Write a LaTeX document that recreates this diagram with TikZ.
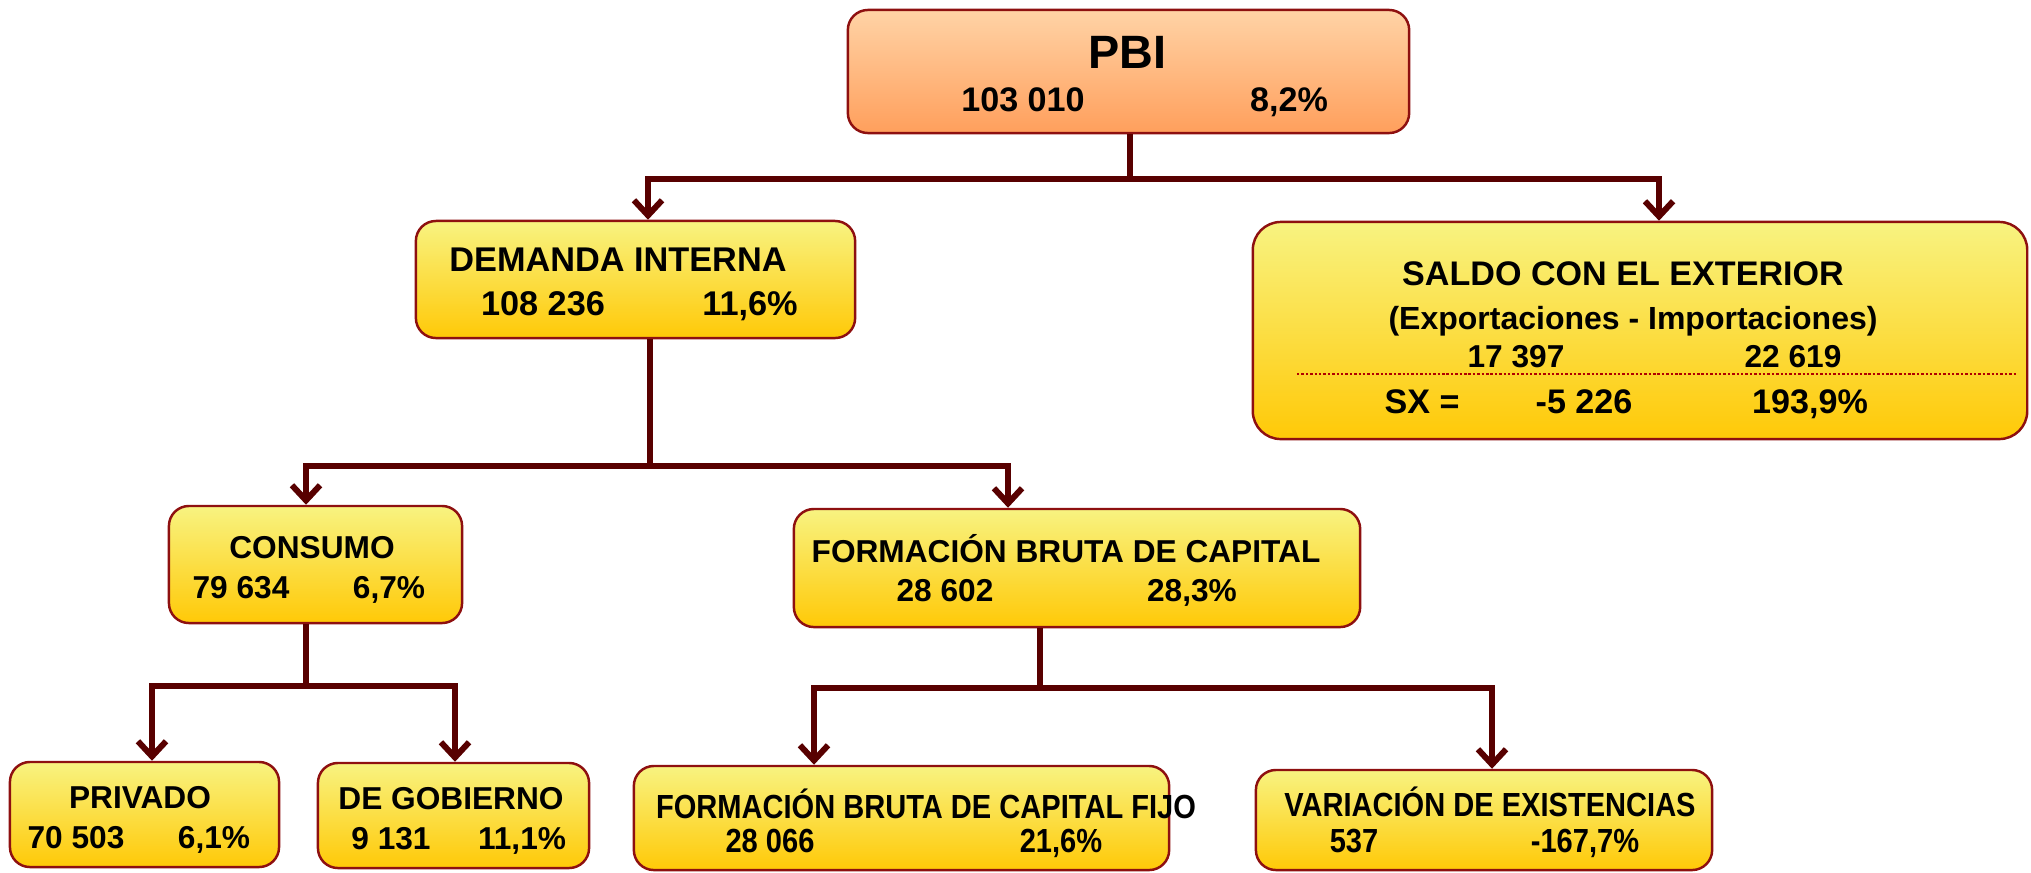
\documentclass[tikz,border=0pt]{standalone}
\usepackage{fontspec}
\setmainfont{Liberation Sans}
\usepackage{graphicx}
\usepackage{xcolor}
\definecolor{boxtop}{HTML}{F8F381}
\definecolor{boxbot}{HTML}{FFC907}
\definecolor{pbitop}{HTML}{FFD3A6}
\definecolor{pbibot}{HTML}{FF9F5C}
\definecolor{boxline}{HTML}{8E1010}
\definecolor{linkcol}{HTML}{580000}
\definecolor{sepcol}{HTML}{B00000}
\usetikzlibrary{arrows.meta}
\usetikzlibrary{calc}
\usetikzlibrary{positioning}

\newcommand{\cond}[1]{\scalebox{0.87}[1]{#1}}

\begin{document}
\begin{tikzpicture}[x=0.01cm,y=-0.01cm,
  box/.style={draw=boxline,line width=0.7pt,rounded corners=0.2cm,top color=boxtop,bottom color=boxbot,inner sep=0pt},
  pbibox/.style={box,top color=pbitop,bottom color=pbibot},
  lbl/.style={anchor=base,inner sep=0pt,font=\bfseries\fontsize{9}{11}\selectfont},
  link/.style={draw=linkcol,line width=1.7pt},
  arr/.style={link,-{Straight Barb[length=4.3pt,width=8pt]}}]
\useasboundingbox (0,0) rectangle (2031,872);

% boxes
\node (pbi) at (1128.5,71.5) [pbibox,minimum width=5.61cm,minimum height=1.23cm] {};
\node (dem) at (635.5,279.5) [box,minimum width=4.39cm,minimum height=1.17cm] {};
\node (sal) at (1640,330.5) [box,rounded corners=0.28cm,minimum width=7.74cm,minimum height=2.17cm] {};
\node (con) at (315.5,564.5) [box,minimum width=2.93cm,minimum height=1.17cm] {};
\node (fbk) at (1077,568) [box,minimum width=5.66cm,minimum height=1.18cm] {};
\node (pri) at (144.5,814.5) [box,minimum width=2.69cm,minimum height=1.05cm] {};
\node (gob) at (453.5,815.5) [box,minimum width=2.71cm,minimum height=1.05cm] {};
\node (fbkf) at (901.5,818) [box,minimum width=5.35cm,minimum height=1.04cm] {};
\node (var) at (1484,820) [box,minimum width=4.56cm,minimum height=1.0cm] {};

% junctions
\coordinate (j1) at (1130,179);
\coordinate (j2) at (650,466);
\coordinate (j3) at (306,686);
\coordinate (j4) at (1040,688);

\draw[link] (pbi.south -| j1) -- (j1);
\draw[arr] (j1) -| ($(dem.north)+(12.5,0)$);
\draw[arr] (j1) -| ($(sal.north)+(19,0)$);

\draw[link] (dem.south -| j2) -- (j2);
\draw[arr] (j2) -| ($(con.north)+(-9.5,0)$);
\draw[arr] (j2) -| ($(fbk.north)+(-69,0)$);

\draw[link] (con.south -| j3) -- (j3);
\draw[arr] (j3) -| ($(pri.north)+(7.5,0)$);
\draw[arr] (j3) -| ($(gob.north)+(1.5,0)$);

\draw[link] (fbk.south -| j4) -- (j4);
\draw[arr] (j4) -| ($(fbkf.north)+(-87.5,0)$);
\draw[arr] (j4) -| ($(var.north)+(8,0)$);

% texts
\node (pbit) at (1127,68) [lbl,font=\bfseries\fontsize{13.3}{15}\selectfont] {PBI};
\node (pbia) at (1023,111) [lbl,font=\bfseries\fontsize{9.7}{11}\selectfont] {103 010};
\node (pbib) at (1289,111) [lbl,font=\bfseries\fontsize{9.7}{11}\selectfont] {8,2\%};

\node (demt) at (618,271) [lbl,font=\bfseries\fontsize{9.75}{11}\selectfont] {DEMANDA INTERNA};
\node (dema) at (543,315) [lbl,font=\bfseries\fontsize{9.75}{11}\selectfont] {108 236};
\node (demb) at (750,315) [lbl,font=\bfseries\fontsize{9.75}{11}\selectfont] {11,6\%};

\node (salt) at (1623,285) [lbl,font=\bfseries\fontsize{9.7}{11}\selectfont] {SALDO CON EL EXTERIOR};
\node (salp) at (1633,329) [lbl,font=\bfseries\fontsize{9.1}{11}\selectfont] {(Exportaciones - Importaciones)};
\node (salx) at (1516,367) [lbl] {17 397};
\node (salm) at (1793,367) [lbl] {22 619};
\draw[draw=sepcol,line width=0.7pt,dash pattern=on 0.7pt off 0.55pt] (1297,374) -- (2016,374);
\node (sxl) at (1422,413) [lbl,font=\bfseries\fontsize{9.7}{11}\selectfont] {SX =};
\node (sxa) at (1584,413) [lbl,font=\bfseries\fontsize{9.7}{11}\selectfont] {-5 226};
\node (sxb) at (1810,413) [lbl,font=\bfseries\fontsize{9.7}{11}\selectfont] {193,9\%};

\node (cont) at (312,558) [lbl] {CONSUMO};
\node (cona) at (241,598) [lbl] {79 634};
\node (conb) at (389,598) [lbl] {6,7\%};

\node (fbkt) at (1066,562) [lbl] {FORMACIÓN BRUTA DE CAPITAL};
\node (fbka) at (945,601) [lbl] {28 602};
\node (fbkb) at (1192,601) [lbl] {28,3\%};

\node (prit) at (140,808) [lbl] {PRIVADO};
\node (pria) at (76,848) [lbl] {70 503};
\node (prib) at (214,848) [lbl] {6,1\%};

\node (gobt) at (451,809) [lbl] {DE GOBIERNO};
\node (goba) at (391,849) [lbl] {9 131};
\node (gobb) at (522,849) [lbl] {11,1\%};

\node (fbkft) at (926,818) [lbl,font=\bfseries\fontsize{9.5}{11}\selectfont] {\cond{FORMACIÓN BRUTA DE CAPITAL FIJO}};
\node (fbkfa) at (770,852) [lbl,font=\bfseries\fontsize{9.5}{11}\selectfont] {\cond{28 066}};
\node (fbkfb) at (1061,852) [lbl,font=\bfseries\fontsize{9.5}{11}\selectfont] {\cond{21,6\%}};

\node (vart) at (1490,816) [lbl,font=\bfseries\fontsize{9.5}{11}\selectfont] {\cond{VARIACIÓN DE EXISTENCIAS}};
\node (vara) at (1354,852) [lbl,font=\bfseries\fontsize{9.5}{11}\selectfont] {\cond{537}};
\node (varb) at (1585,852) [lbl,font=\bfseries\fontsize{9.5}{11}\selectfont] {\cond{-167,7\%}};
\end{tikzpicture}
\end{document}
